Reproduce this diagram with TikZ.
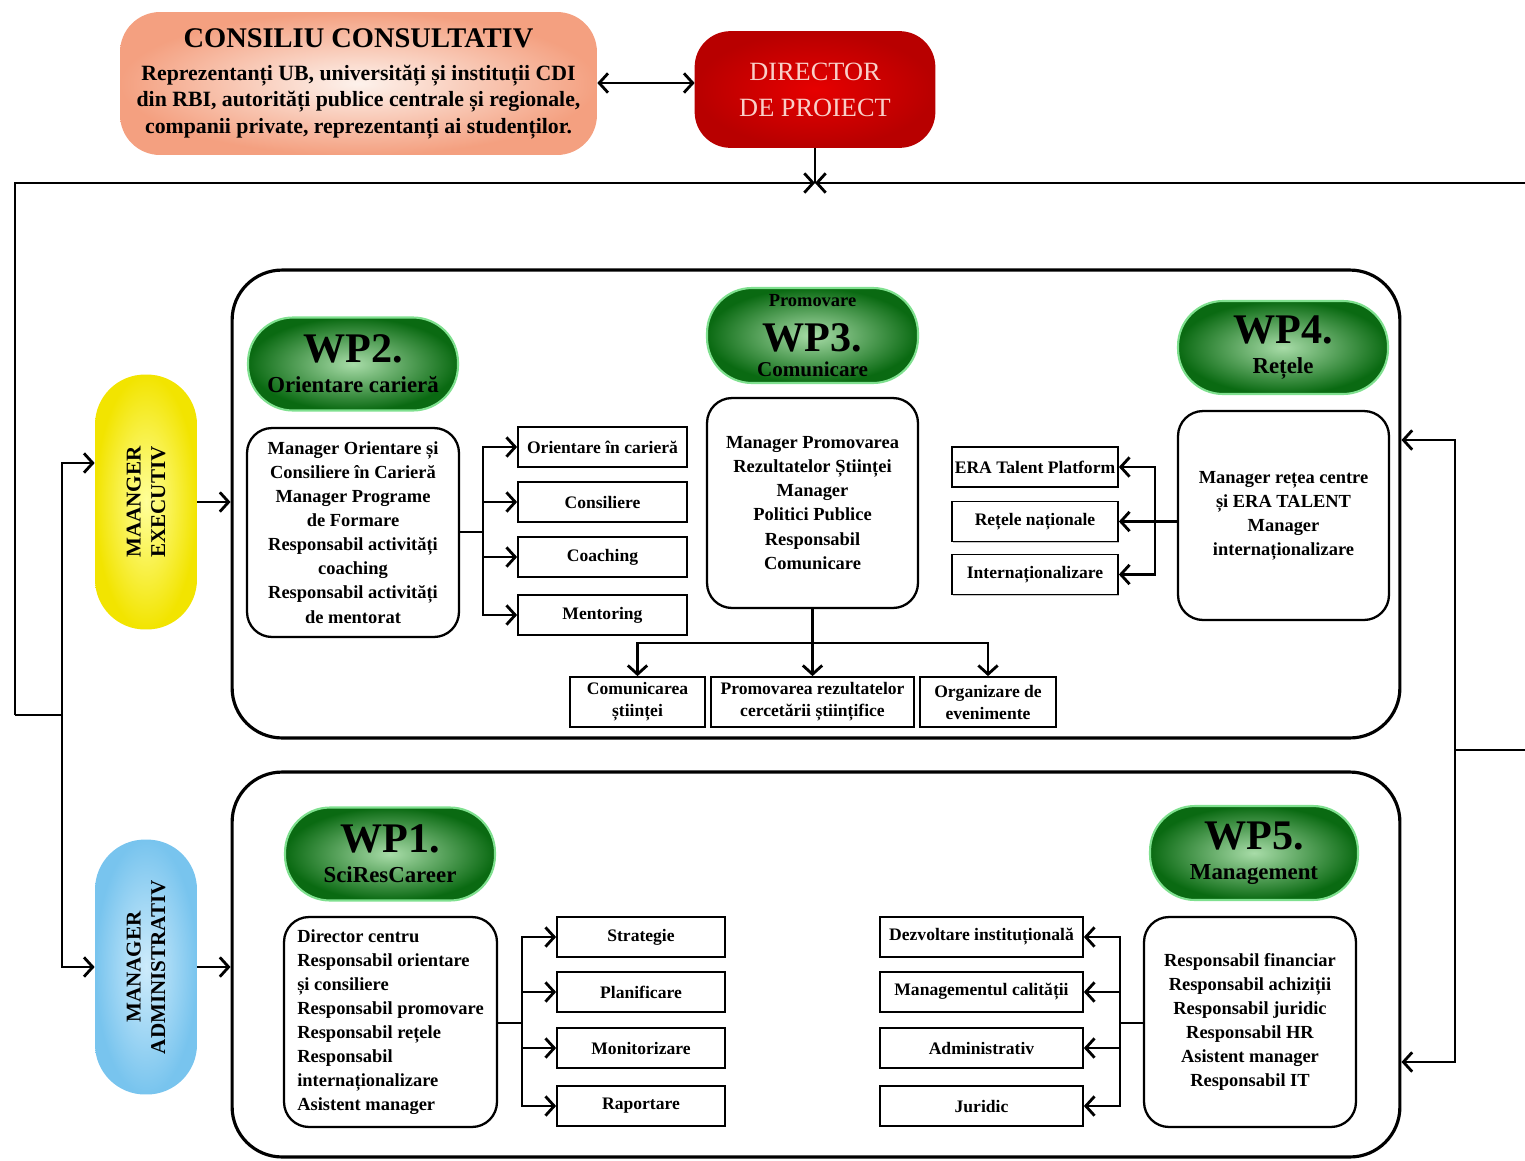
\documentclass[tikz,border=0pt]{standalone}
\usepackage{fontspec}
\setmainfont{Liberation Serif}
\usetikzlibrary{arrows.meta,shadows}
\definecolor{gout}{HTML}{0A6A12}
\definecolor{gin}{HTML}{A8DCA8}
\definecolor{gglow}{HTML}{7FE08F}
\definecolor{consout}{HTML}{F4A080}
\definecolor{consin}{HTML}{FDF2EC}
\definecolor{redout}{HTML}{B80000}
\definecolor{redin}{HTML}{E60000}
\definecolor{dirtext}{HTML}{F9CFC8}
\definecolor{yelout}{HTML}{F2E400}
\definecolor{yelin}{HTML}{FFFF9A}
\definecolor{bluout}{HTML}{78C4EE}
\definecolor{bluin}{HTML}{CDEBFB}
\begin{document}
\begin{tikzpicture}[x=0.02cm,y=-0.02cm,
  conn/.style={line width=1.6pt},
  arr/.style={line width=1.6pt,-{Straight Barb[length=5pt,width=11pt]}},
  darr/.style={line width=1.6pt,{Straight Barb[length=5pt,width=11pt]}-{Straight Barb[length=5pt,width=11pt]}},
  cont/.style={draw,line width=1.8pt,rounded corners=1cm,minimum width=23.36cm},
  pill/.style={shade,inner color=gin,outer color=gout,draw=gglow,line width=1.2pt,
    rounded corners=0.9cm,minimum width=4.2cm,minimum height=1.86cm,align=center,
    font=\bfseries,inner sep=0pt},
  stad/.style={shade,minimum width=2.04cm,minimum height=5.1cm,rounded corners=1cm},
  rbox/.style={draw,fill=white,line width=1.3pt,rounded corners=0.5cm,minimum width=4.22cm,
    minimum height=4.18cm,align=center,font=\bfseries\fontsize{10.5}{13.7}\selectfont,inner sep=2pt},
  sbox/.style={draw,fill=white,line width=1pt,minimum height=0.8cm,align=center,
    font=\bfseries\fontsize{10}{12.5}\selectfont,inner sep=1pt,
    drop shadow={shadow xshift=0.8pt,shadow yshift=-0.8pt,fill=black!45}},
  vtext/.style={rotate=90,align=center,font=\bfseries\fontsize{12}{14}\selectfont}
]
\useasboundingbox (0,0) rectangle (1525,1160);

% containers
\node[cont,minimum height=9.36cm] (upc) at (816,504) {};
\node[cont,minimum height=7.7cm] (loc) at (816,964.5) {};

% top
\node[shade,inner color=consin,outer color=consout,rounded corners=0.8cm,
  minimum width=9.54cm,minimum height=2.86cm,align=center,
  font=\bfseries\fontsize{12.4}{15}\selectfont] (cons) at (358.5,83.5)
  {{\fontsize{16.2}{18}\selectfont CONSILIU CONSULTATIV}\\[4pt]
   Reprezentanți UB, universități și instituții CDI\\
   din RBI, autorități publice centrale și regionale,\\
   companii private, reprezentanți ai studenților.};
\node[shade,inner color=redin,outer color=redout,draw=redout,line width=1pt,rounded corners=0.7cm,
  minimum width=4.78cm,minimum height=2.3cm,align=center,text=dirtext,
  font=\fontsize{15}{20.5}\selectfont] (dir) at (815,89.5) {DIRECTOR\\DE PROIECT};
\draw[darr] (cons.east |- 0,83) -- (dir.west |- 0,83);

\coordinate (J) at (815,183);
\coordinate (TL) at (15,183);
\coordinate (TR) at (1525,183);
\coordinate (LB) at (15,715);
\coordinate (LJ) at (62,715);
\coordinate (RV) at (1455,750);
\coordinate (RB) at (1525,750);
\draw[conn] (dir.south) -- (J);
\draw[arr] (LB) -- (TL) -- (J);
\draw[arr] (TR) -- (J);

% managers
\node[stad,inner color=yelin,outer color=yelout] (exec) at (146,502) {};
\node[vtext] (exect) at (exec) {MAANGER\\EXECUTIV};
\node[stad,inner color=bluin,outer color=bluout] (adm) at (146,967) {};
\node[vtext] (admt) at (adm) {MANAGER\\ADMINISTRATIV};

\draw[conn] (LB) -- (LJ);
\draw[arr] (LJ) |- (exec.west |- 0,463);
\draw[arr] (LJ) |- (adm.west);
\draw[arr] (exec.east) -- (exec.east -| upc.west);
\draw[arr] (adm.east) -- (adm.east -| loc.west);

\draw[conn] (RB) -- (RV);
\draw[arr] (RV) |- (upc.east |- 0,440);
\draw[arr] (RV) |- (loc.east |- 0,1062);

% WP2
\node[pill] (wp2) at (353,364) {{\fontsize{24}{24}\selectfont WP2.}\\[5pt]{\fontsize{13}{14}\selectfont Orientare carieră}};
\node[rbox,minimum width=4.24cm] (wp2b) at (353,532.5) {Manager Orientare și\\Consiliere în Carieră\\Manager Programe\\de Formare\\Responsabil activități\\coaching\\Responsabil activități\\de mentorat};
\node[sbox,minimum width=3.38cm] (s21) at (602.5,447) {Orientare în carieră};
\node[sbox,minimum width=3.38cm] (s22) at (602.5,502) {Consiliere};
\node[sbox,minimum width=3.38cm] (s23) at (602.5,557) {Coaching};
\node[sbox,minimum width=3.38cm] (s24) at (602.5,615) {Mentoring};
\coordinate (b2) at (483,532);
\draw[conn] (b2 -| wp2b.east) -- (b2);
\foreach \t in {s21,s22,s23,s24} \draw[arr] (b2) |- (\t.west);

% WP3
\node[pill,minimum width=4.22cm,minimum height=1.9cm] (wp3) at (812.5,335.5) {{\fontsize{10.5}{11}\selectfont Promovare}\\[9pt]{\fontsize{24}{24}\selectfont WP3.}\\[2pt]{\fontsize{12}{13}\selectfont Comunicare}};
\node[rbox,minimum height=4.2cm] (wp3b) at (812.5,503) {Manager Promovarea\\Rezultatelor Științei\\Manager\\Politici Publice\\Responsabil\\Comunicare};
\node[sbox,minimum width=2.7cm,minimum height=1cm] (c1) at (637.5,702) {Comunicarea\\științei};
\node[sbox,minimum width=4.06cm,minimum height=1cm] (c2) at (812.5,702) {Promovarea rezultatelor\\cercetării științifice};
\node[sbox,minimum width=2.72cm,minimum height=1cm] (c3) at (988,702) {Organizare de\\evenimente};
\coordinate (b3) at (812.5,643);
\draw[conn] (wp3b.south) -- (b3);
\foreach \t in {c1,c2,c3} \draw[arr] (b3) -| (\t.north);

% WP4
\node[pill] (wp4) at (1283,347.5) {{\fontsize{24}{24}\selectfont WP4.}\\[5pt]{\fontsize{13}{14}\selectfont Rețele}};
\node[rbox] (wp4b) at (1283.5,515.5) {Manager rețea centre\\și ERA TALENT\\Manager\\internaționalizare};
\node[sbox,minimum width=3.32cm] (r1) at (1035,467) {ERA Talent Platform};
\node[sbox,minimum width=3.32cm] (r2) at (1035,521.5) {Rețele naționale};
\node[sbox,minimum width=3.32cm] (r3) at (1035,574.5) {Internaționalizare};
\coordinate (b4) at (1155,521.5);
\draw[conn] (b4 -| wp4b.west) -- (b4);
\foreach \t in {r1,r2,r3} \draw[arr] (b4) |- (\t.east);

% WP1
\node[pill] (wp1) at (390,854) {{\fontsize{24}{24}\selectfont WP1.}\\[5pt]{\fontsize{13}{14}\selectfont SciResCareer}};
\node[rbox,minimum width=4.26cm,minimum height=4.2cm,align=left] (wp1b) at (390.5,1022) {Director centru\\Responsabil orientare\\și consiliere\\Responsabil promovare\\Responsabil rețele\\Responsabil\\internaționalizare\\Asistent manager};
\node[sbox,minimum width=3.36cm] (p1) at (641,937) {Strategie};
\node[sbox,minimum width=3.36cm] (p2) at (641,992) {Planificare};
\node[sbox,minimum width=3.36cm] (p3) at (641,1048) {Monitorizare};
\node[sbox,minimum width=3.36cm] (p4) at (641,1106) {Raportare};
\coordinate (b1) at (522,1023);
\draw[conn] (b1 -| wp1b.east) -- (b1);
\foreach \t in {p1,p2,p3,p4} \draw[arr] (b1) |- (\t.west);

% WP5
\node[pill,minimum width=4.16cm,minimum height=1.88cm] (wp5) at (1254,853) {{\fontsize{24}{24}\selectfont WP5.}\\[5pt]{\fontsize{13}{14}\selectfont Management}};
\node[rbox,minimum width=4.24cm,minimum height=4.2cm] (wp5b) at (1250,1022) {Responsabil financiar\\Responsabil achiziții\\Responsabil juridic\\Responsabil HR\\Asistent manager\\Responsabil IT};
\node[sbox,minimum width=4.06cm] (m1) at (981.5,937) {Dezvoltare instituțională};
\node[sbox,minimum width=4.06cm] (m2) at (981.5,992) {Managementul calității};
\node[sbox,minimum width=4.06cm] (m3) at (981.5,1048) {Administrativ};
\node[sbox,minimum width=4.06cm] (m4) at (981.5,1106) {Juridic};
\coordinate (b5) at (1120,1023);
\draw[conn] (b5 -| wp5b.west) -- (b5);
\foreach \t in {m1,m2,m3,m4} \draw[arr] (b5) |- (\t.east);
\end{tikzpicture}
\end{document}
